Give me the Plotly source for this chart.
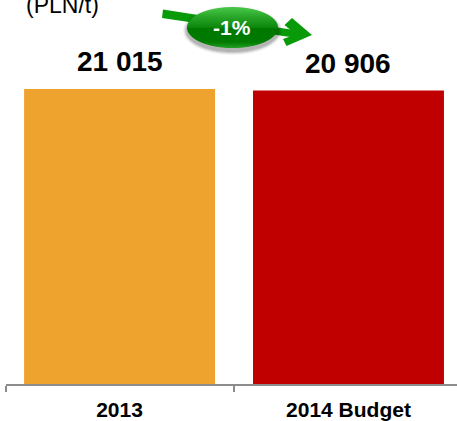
import numpy as np
import plotly.graph_objects as go

# Unit price comparison
categories = ["2013", "2014 Budget"]
values = [21015, 20906]
value_labels = ["21 015", "20 906"]
bar_colors = ["#EFA32F", "#C00000"]
unit_label = "(PLN/t)"
change_label = "-1%"

W, H = 457, 421
ML, MR, MT, MB = 6, 0, 0, 37
PW, PH = W - ML - MR, H - MT - MB


def px(x):
    return (x - ML) / PW


def py(y):
    return 1 - (y - MT) / PH


def path_from(points, close=True):
    d = "M" + " L".join(f"{px(x):.5f},{py(y):.5f}" for x, y in points)
    return d + (" Z" if close else "")


def blob(path, fill, opacity=1.0):
    return dict(type="path", xref="paper", yref="paper", path=path, fillcolor=fill,
                opacity=opacity, line=dict(width=0), layer="above")


def ellipse_pts(cx, cy, rx, ry, n=60):
    t = np.linspace(0, 2 * np.pi, n, endpoint=False)
    return list(zip(cx + rx * np.cos(t), cy + ry * np.sin(t)))


def ellipse_band(cx, cy, rx, ry, y0, y1, n=24):
    # Horizontal slice of an ellipse, between two pixel rows
    ys = np.linspace(y0, y1, n)
    half = rx * np.sqrt(np.clip(1 - ((ys - cy) / ry) ** 2, 0, 1))
    return list(zip(cx - half, ys)) + list(zip(cx + half[::-1], ys[::-1]))


def mix(a, b, t):
    return "#" + "".join(f"{int(round(a[i] + (b[i] - a[i]) * t)):02x}" for i in range(3))


shapes = []
GREEN = "#089A08"

# Trend arrow running behind the badge
shapes.append(blob(path_from([(163, 9.5), (297, 30.5), (297, 38), (162, 18)]), GREEN))
shapes.append(blob(path_from([(292, 18), (312, 35), (286.5, 46), (283, 39),
                              (296, 34.5), (284.5, 25)]), GREEN))

# Badge: soft drop shadow, then a banded vertical gradient
cx, cy, rx, ry = 232.5, 27.5, 45.5, 20.5
for grow, alpha in [(4, 0.05), (3, 0.07), (2, 0.09), (1, 0.11)]:
    shapes.append(blob(path_from(ellipse_pts(cx, cy + 3, rx + grow, ry + grow)), "#000000", alpha))

stops = [(0.0, (72, 200, 72)), (0.25, (40, 165, 40)), (0.5, (12, 135, 12)),
         (0.52, (0, 120, 0)), (0.85, (0, 122, 0)), (1.0, (35, 160, 35))]
rows = np.arange(cy - ry, cy + ry, 1.0)
for y0 in rows:
    f = (y0 + 0.5 - (cy - ry)) / (2 * ry)
    for (a, ca), (b, cb) in zip(stops[:-1], stops[1:]):
        if a <= f <= b:
            shapes.append(blob(path_from(ellipse_band(cx, cy, rx, ry, y0, y0 + 1.1, 6)),
                               mix(ca, cb, (f - a) / (b - a))))
            break

fig = go.Figure(go.Bar(
    x=[0, 1],
    y=values,
    width=0.834,
    marker=dict(color=bar_colors, line=dict(width=0)),
    hoverinfo="skip",
))

annotations = [
    dict(x=i, y=v, text=f"<b>{t}</b>", showarrow=False, xref="x", yref="y",
         yanchor="bottom", yshift=10, font=dict(size=28, color="#000000"))
    for i, (v, t) in enumerate(zip(values, value_labels))
]
annotations += [
    dict(x=px(62), y=py(5), xref="paper", yref="paper", text=unit_label, showarrow=False,
         font=dict(size=23, color="#000000"), xanchor="center", yanchor="middle"),
    dict(x=px(232), y=py(27), xref="paper", yref="paper", text=f"<b>{change_label}</b>",
         showarrow=False, font=dict(size=21, color="#FFFFFF"), xanchor="center", yanchor="middle"),
]

fig.update_layout(
    width=W,
    height=H,
    margin=dict(l=ML, r=MR, t=MT, b=MB, pad=0),
    paper_bgcolor="#FFFFFF",
    plot_bgcolor="#FFFFFF",
    showlegend=False,
    font=dict(family="Liberation Sans, Arial, sans-serif"),
    shapes=shapes,
    annotations=annotations,
    xaxis=dict(
        range=[-0.496, 1.474],
        tickmode="array",
        tickvals=[0, 1],
        ticktext=[f"<b>{c}</b>" for c in categories],
        ticklen=0,
        ticklabelstandoff=6,
        tickfont=dict(size=21, color="#000000"),
        showgrid=False,
        zeroline=False,
        showline=True,
        linecolor="#8C8C8C",
        linewidth=2,
        minor=dict(tickmode="array", tickvals=[-0.496, 0.5], ticks="outside", ticklen=6,
                   tickwidth=2, tickcolor="#8C8C8C", showgrid=False),
    ),
    yaxis=dict(range=[0, 27355], visible=False),
)

fig.write_html("out.html", config=dict(displayModeBar=False))
